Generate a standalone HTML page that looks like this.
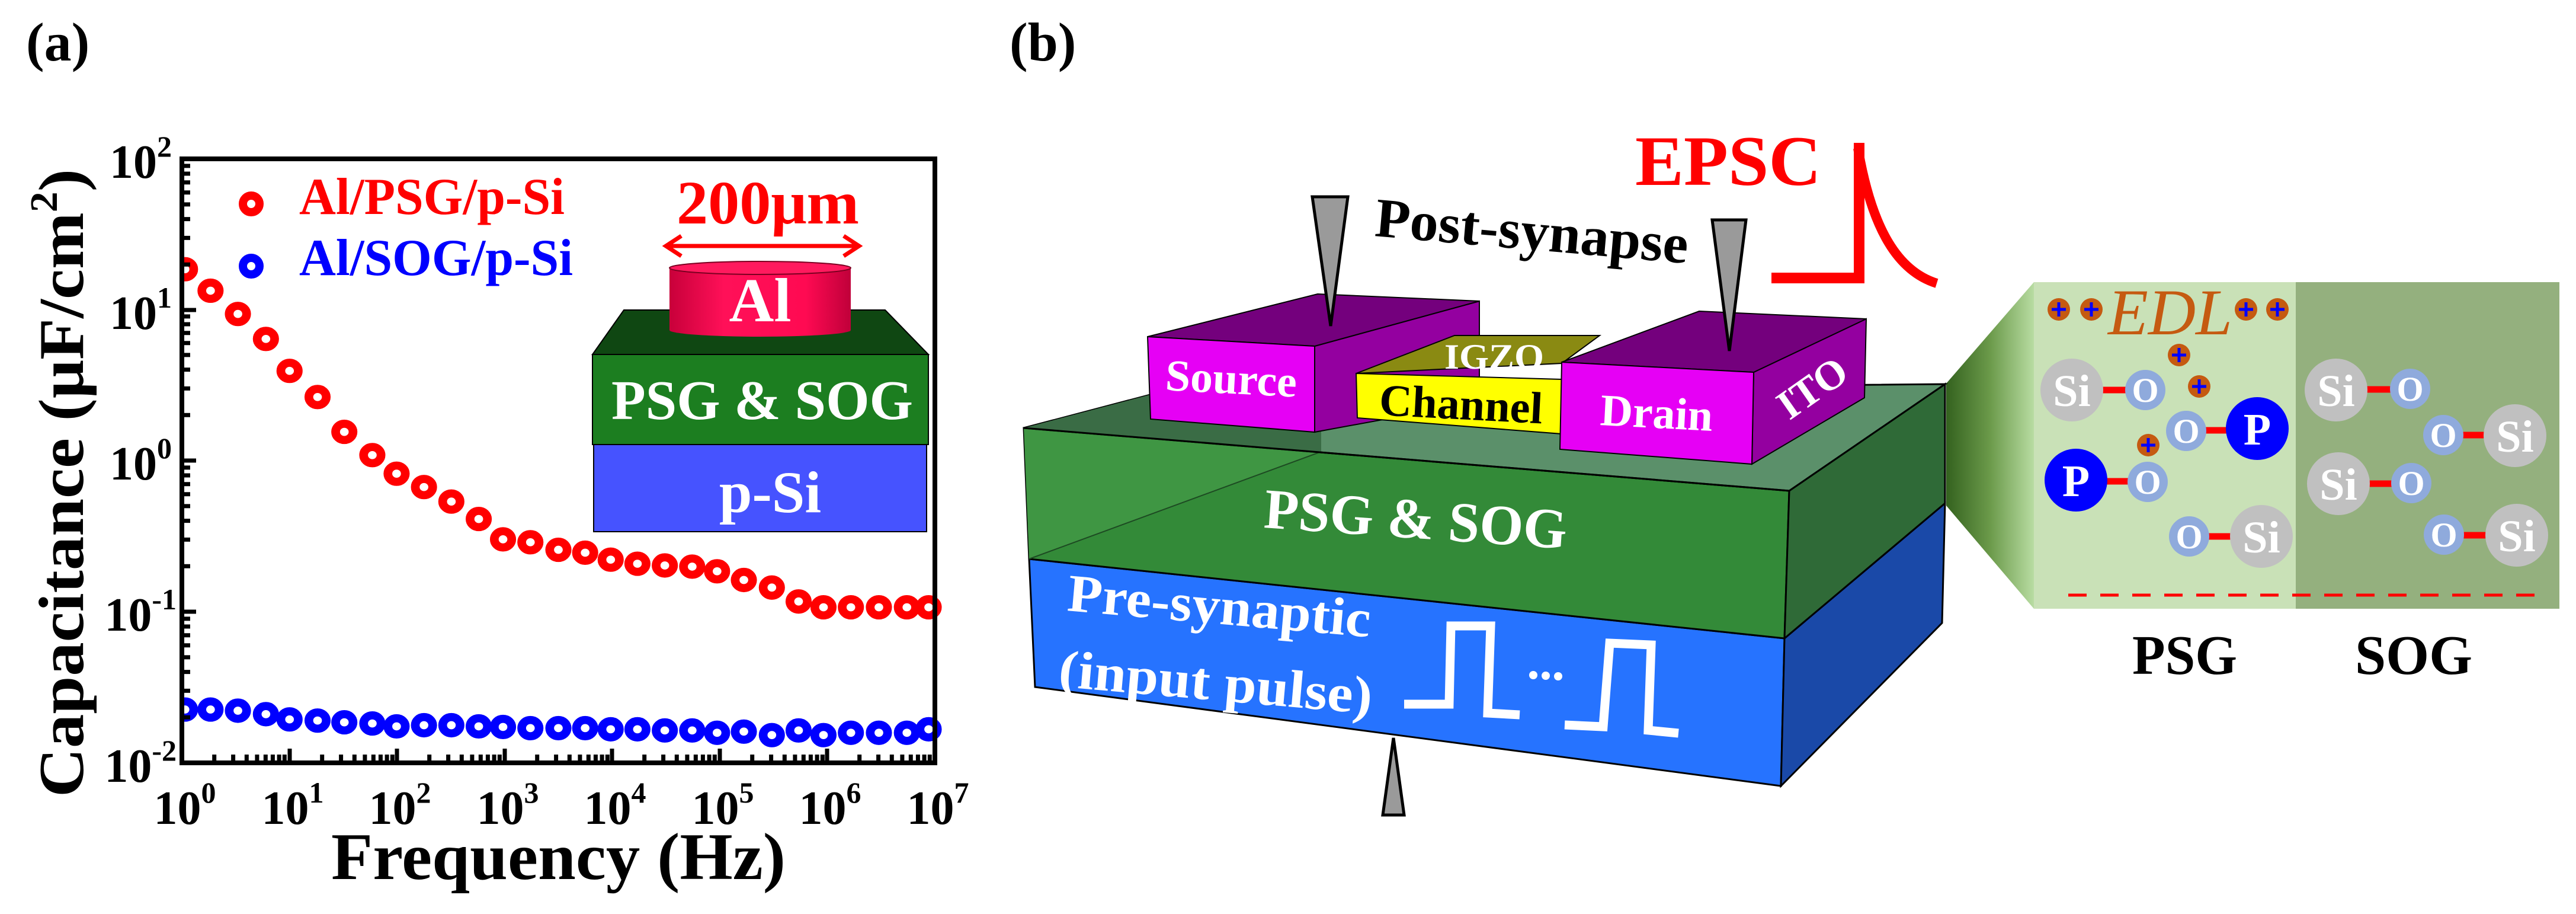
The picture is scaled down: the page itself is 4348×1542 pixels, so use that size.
<!DOCTYPE html>
<html><head><meta charset="utf-8"><style>
html,body{margin:0;padding:0;background:#fff;}
svg{display:block;}
svg text, svg tspan{font-family:"Liberation Serif","DejaVu Serif",serif !important;}
</style></head><body>
<svg width="4348" height="1542" viewBox="0 0 4348 1542" xmlns="http://www.w3.org/2000/svg" font-family="Liberation Serif, DejaVu Serif, serif">
<defs>
<path id="ly" d="M0,-76.7h14M0,-121.6h14M0,-153.4h14M0,-178.1h14M0,-198.2h14M0,-215.3h14M0,-230h14M0,-243.1h14" stroke="#000" stroke-width="7"/>
<path id="bx" d="M54.7,0v-14M86.6,0v-14M109.3,0v-14M126.9,0v-14M141.3,0v-14M153.4,0v-14M164.1,0v-14M173.3,0v-14" stroke="#000" stroke-width="7"/>
<linearGradient id="alg" x1="0" x2="1" y1="0" y2="0">
<stop offset="0" stop-color="#c8003a"/><stop offset="0.3" stop-color="#ff1058"/><stop offset="0.75" stop-color="#ff0a52"/><stop offset="1" stop-color="#c0003a"/></linearGradient>
<linearGradient id="zg" x1="0" x2="1" y1="0" y2="0">
<stop offset="0" stop-color="#34621f"/><stop offset="0.5" stop-color="#6b9a4a"/><stop offset="1" stop-color="#b8dca2"/></linearGradient>
</defs>

<text x="44" y="102" font-family="Liberation Serif, serif" font-size="92" font-weight="bold">(a)</text>

<g transform="translate(2.4,3.4) scale(1.0504,0.98)" fill="none" stroke-width="14">
<g stroke="#ff0000">
<circle cx="295" cy="460" r="14"/><circle cx="336" cy="497" r="14"/><circle cx="380" cy="537" r="14"/><circle cx="425" cy="580" r="14"/><circle cx="463" cy="635" r="14"/><circle cx="508" cy="680" r="14"/><circle cx="551" cy="740" r="14"/><circle cx="596" cy="780" r="14"/><circle cx="635" cy="812" r="14"/><circle cx="679" cy="835" r="14"/><circle cx="723" cy="860" r="14"/><circle cx="767" cy="890" r="14"/><circle cx="806" cy="925" r="14"/><circle cx="850" cy="930" r="14"/><circle cx="895" cy="943" r="14"/><circle cx="938" cy="948" r="14"/><circle cx="979" cy="960" r="14"/><circle cx="1022" cy="967" r="14"/><circle cx="1066" cy="970" r="14"/><circle cx="1110" cy="972" r="14"/><circle cx="1150" cy="980" r="14"/><circle cx="1193" cy="995" r="14"/><circle cx="1238" cy="1008" r="14"/><circle cx="1281" cy="1032" r="14"/><circle cx="1321" cy="1042" r="14"/><circle cx="1365" cy="1042" r="14"/><circle cx="1410" cy="1042" r="14"/><circle cx="1455" cy="1042" r="14"/><circle cx="1490" cy="1042" r="14"/>
</g>
<g stroke="#0000ff">
<circle cx="295" cy="1218" r="14"/><circle cx="336" cy="1218" r="14"/><circle cx="380" cy="1220" r="14"/><circle cx="425" cy="1226" r="14"/><circle cx="463" cy="1235" r="14"/><circle cx="508" cy="1237" r="14"/><circle cx="551" cy="1240" r="14"/><circle cx="596" cy="1242" r="14"/><circle cx="635" cy="1247" r="14"/><circle cx="679" cy="1245" r="14"/><circle cx="723" cy="1245" r="14"/><circle cx="767" cy="1247" r="14"/><circle cx="806" cy="1248" r="14"/><circle cx="850" cy="1250" r="14"/><circle cx="895" cy="1250" r="14"/><circle cx="938" cy="1250" r="14"/><circle cx="979" cy="1252" r="14"/><circle cx="1022" cy="1252" r="14"/><circle cx="1066" cy="1254" r="14"/><circle cx="1110" cy="1254" r="14"/><circle cx="1150" cy="1258" r="14"/><circle cx="1193" cy="1256" r="14"/><circle cx="1238" cy="1262" r="14"/><circle cx="1281" cy="1254" r="14"/><circle cx="1321" cy="1262" r="14"/><circle cx="1365" cy="1258" r="14"/><circle cx="1410" cy="1258" r="14"/><circle cx="1455" cy="1258" r="14"/><circle cx="1490" cy="1252" r="14"/>
</g>
</g>
<rect x="250" y="240" width="54" height="1080" fill="#fff"/>

<rect x="307" y="268" width="1271" height="1019" fill="none" stroke="#000" stroke-width="8"/>
<g stroke="#000" stroke-width="7">
<path d="M307,268h24M307,523h24M307,777h24M307,1032h24M307,1287h24"/>
<path d="M489,1287v-24M670,1287v-24M852,1287v-24M1033,1287v-24M1215,1287v-24M1396,1287v-24"/>
</g>
<use href="#ly" x="307" y="523"/><use href="#ly" x="307" y="777"/><use href="#ly" x="307" y="1032"/><use href="#ly" x="307" y="1287"/>
<use href="#bx" x="307" y="1287"/><use href="#bx" x="489" y="1287"/><use href="#bx" x="670" y="1287"/><use href="#bx" x="852" y="1287"/><use href="#bx" x="1033" y="1287"/><use href="#bx" x="1215" y="1287"/><use href="#bx" x="1396" y="1287"/>

<g font-size="80" font-weight="bold" text-anchor="end" font-family="Liberation Serif, serif">
<text x="290" y="300">10<tspan font-size="50" dy="-36">2</tspan></text>
<text x="290" y="555">10<tspan font-size="50" dy="-36">1</tspan></text>
<text x="290" y="809">10<tspan font-size="50" dy="-36">0</tspan></text>
<text x="298" y="1064">10<tspan font-size="50" dy="-36">-1</tspan></text>
<text x="298" y="1319">10<tspan font-size="50" dy="-36">-2</tspan></text>
</g>
<g font-size="80" font-weight="bold" text-anchor="middle" font-family="Liberation Serif, serif">
<text x="312" y="1390">10<tspan font-size="50" dy="-36">0</tspan></text>
<text x="494" y="1390">10<tspan font-size="50" dy="-36">1</tspan></text>
<text x="675" y="1390">10<tspan font-size="50" dy="-36">2</tspan></text>
<text x="857" y="1390">10<tspan font-size="50" dy="-36">3</tspan></text>
<text x="1038" y="1390">10<tspan font-size="50" dy="-36">4</tspan></text>
<text x="1220" y="1390">10<tspan font-size="50" dy="-36">5</tspan></text>
<text x="1401" y="1390">10<tspan font-size="50" dy="-36">6</tspan></text>
<text x="1583" y="1390">10<tspan font-size="50" dy="-36">7</tspan></text>
</g>
<text x="559" y="1483" font-family="Liberation Serif, serif" font-size="112" font-weight="bold" textLength="767" lengthAdjust="spacingAndGlyphs">Frequency (Hz)</text>
<text transform="translate(140,1345) rotate(-90)" font-family="Liberation Serif, serif" font-size="108" font-weight="bold" textLength="1060" lengthAdjust="spacingAndGlyphs">Capacitance (μF/cm<tspan font-size="66" dy="-44">2</tspan><tspan dy="44">)</tspan></text>

<circle cx="424" cy="344" r="14" fill="none" stroke="#ff0000" stroke-width="14"/>
<circle cx="424" cy="449" r="14" fill="none" stroke="#0000ff" stroke-width="14"/>
<g font-family="Liberation Serif, serif" font-weight="bold">
<text x="505" y="361" font-family="Liberation Serif, serif" font-size="88" style="fill:#ff0000" textLength="448" lengthAdjust="spacingAndGlyphs">Al/PSG/p-Si</text>
<text x="505" y="464" font-family="Liberation Serif, serif" font-size="88" style="fill:#0000ff" textLength="462" lengthAdjust="spacingAndGlyphs">Al/SOG/p-Si</text>
<text x="1142" y="377" font-family="Liberation Serif, serif" font-size="104" style="fill:#ff0000" textLength="308" lengthAdjust="spacingAndGlyphs">200μm</text>
</g>
<g stroke="#ff0000" stroke-width="7" fill="none">
<path d="M1124,415H1450"/><path d="M1150,398L1124,415L1150,432"/><path d="M1424,398L1450,415L1424,432"/>
</g>
<polygon points="1053,523 1494,523 1567,598 1000,598" fill="#0f4712" stroke="#000" stroke-width="2"/>
<rect x="1000" y="598" width="567" height="152" fill="#1c7e20" stroke="#000" stroke-width="2"/>
<rect x="1002" y="750" width="562" height="147" fill="#4653ff" stroke="#000" stroke-width="2"/>
<path d="M1130,452 V557 A153,11 0 0 0 1436,557 V452 Z" fill="url(#alg)"/>
<ellipse cx="1283" cy="452" rx="153" ry="11" fill="#ff1a5e" stroke="#7a0020" stroke-width="2"/>
<g font-family="Liberation Serif, serif" font-weight="bold" style="fill:#fff">
<text x="1283" y="542" font-family="Liberation Serif, serif" font-size="105" text-anchor="middle">Al</text>
<text x="1032" y="707" font-family="Liberation Serif, serif" font-size="94" textLength="509" lengthAdjust="spacingAndGlyphs">PSG &amp; SOG</text>
<text x="1300" y="864" font-family="Liberation Serif, serif" font-size="100" text-anchor="middle">p-Si</text>
</g>

<text x="1704" y="102" font-family="Liberation Serif, serif" font-size="92" font-weight="bold">(b)</text>

<polygon points="3285,647 3433,476 3433,1027 3285,853" fill="url(#zg)"/>
<rect x="3433" y="476" width="442" height="551" fill="#c9e1b7"/>
<rect x="3875" y="476" width="445" height="551" fill="#94b07e"/>
<line x1="3491" y1="1004" x2="4290" y2="1004" stroke="#ff0000" stroke-width="5" stroke-dasharray="31 23"/>

<polygon points="1737,943 3012,1077 3006,1326 1747,1159" fill="#2673ff" stroke="#000" stroke-width="3"/>
<polygon points="3012,1077 3283,849 3278,1051 3006,1326" fill="#1a49a8" stroke="#000" stroke-width="3"/>
<polygon points="1728,722 3020,828 3012,1077 1737,943" fill="#338a38" stroke="#000" stroke-width="3"/>
<polygon points="1728,722 2230,762 1737,943" fill="#3f9643"/>
<polygon points="3020,828 3283,648 3283,849 3012,1077" fill="#2f6a37" stroke="#000" stroke-width="3"/>
<polygon points="1728,722 1964,660 3283,648 3020,828" fill="#5b906a" stroke="#000" stroke-width="3"/>
<polygon points="1728,722 1964,660 2230,720 2230,762" fill="#3a6c45"/>
<line x1="1737" y1="943" x2="2230" y2="762" stroke="#1d4a22" stroke-width="2"/>
<line x1="1728" y1="722" x2="3020" y2="828" stroke="#000" stroke-width="3"/>

<polygon points="2219,584 2497,508 2497,678 2219,729" fill="#9400a0" stroke="#000" stroke-width="2"/>
<polygon points="1937,568 2224,496 2497,508 2219,584" fill="#74007d" stroke="#000" stroke-width="2"/>
<polygon points="1937,568 2219,584 2219,729 1942,707" fill="#e600f5" stroke="#000" stroke-width="2"/>

<polygon points="2289,630 2455,566 2700,566 2636,613" fill="#8a8a12" stroke="#000" stroke-width="2"/>
<polygon points="2289,630 2636,640 2636,732 2291,705" fill="#ffff00" stroke="#000" stroke-width="2"/>

<polygon points="2960,628 3150,538 3147,671 2957,783" fill="#9400a0" stroke="#000" stroke-width="2"/>
<polygon points="2636,611 2868,525 3150,538 2960,628" fill="#74007d" stroke="#000" stroke-width="2"/>
<polygon points="2636,611 2960,628 2957,783 2633,758" fill="#e600f5" stroke="#000" stroke-width="2"/>

<g font-family="Liberation Serif, serif" font-weight="bold" style="fill:#fff">
<text x="1966" y="658" font-family="Liberation Serif, serif" font-size="75" textLength="222" lengthAdjust="spacingAndGlyphs" transform="rotate(3 1966 658)">Source</text>
<text x="2438" y="622" font-family="Liberation Serif, serif" font-size="60" textLength="168" lengthAdjust="spacingAndGlyphs">IGZO</text>
<text x="2700" y="717" font-family="Liberation Serif, serif" font-size="76" textLength="190" lengthAdjust="spacingAndGlyphs" transform="rotate(3 2700 717)">Drain</text>
<text x="3058" y="678" font-family="Liberation Serif, serif" font-size="70" text-anchor="middle" transform="rotate(-35 3058 653)">ITO</text>
<text x="2132" y="890" font-family="Liberation Serif, serif" font-size="96" textLength="512" lengthAdjust="spacingAndGlyphs" transform="rotate(4 2132 890)">PSG &amp; SOG</text>
<text x="1800" y="1030" font-family="Liberation Serif, serif" font-size="90" textLength="513" lengthAdjust="spacingAndGlyphs" transform="rotate(5 1800 1030)">Pre-synaptic</text>
<text x="1785" y="1158" font-family="Liberation Serif, serif" font-size="90" textLength="531" lengthAdjust="spacingAndGlyphs" transform="rotate(5 1785 1158)">(input pulse)</text>
</g>
<g font-family="Liberation Serif, serif" font-weight="bold">
<text x="2327" y="700" font-family="Liberation Serif, serif" font-size="76" textLength="276" lengthAdjust="spacingAndGlyphs" transform="rotate(3 2327 700)">Channel</text>
<text x="2319" y="398" font-family="Liberation Serif, serif" font-size="94" textLength="530" lengthAdjust="spacingAndGlyphs" transform="rotate(5 2319 398)">Post-synapse</text>
<text x="2760" y="312" font-family="Liberation Serif, serif" font-size="120" style="fill:#ff0000" textLength="314" lengthAdjust="spacingAndGlyphs">EPSC</text>
</g>

<polygon points="2215,332 2275,332 2246,550" fill="#9a9a9a" stroke="#000" stroke-width="5"/>
<polygon points="2890,371 2947,371 2919,592" fill="#9a9a9a" stroke="#000" stroke-width="5"/>
<polygon points="2334,1375 2370,1375 2352,1245" fill="#9a9a9a" stroke="#000" stroke-width="5"/>

<path d="M2990,469 H3138 V241" fill="none" stroke="#ff0000" stroke-width="18"/>
<path d="M3136,250 C3160,390 3205,458 3269,478" fill="none" stroke="#ff0000" stroke-width="16"/>

<g fill="none" stroke="#fff" stroke-width="15">
<path d="M2370,1188 L2446,1188 L2449,1056 L2516,1056 L2511,1203 L2565,1206"/>
<path d="M2641,1223 L2706,1226 L2717,1085 L2787,1088 L2782,1232 L2833,1237"/>
</g>
<g fill="#fff"><circle cx="2588" cy="1139" r="7"/><circle cx="2609" cy="1140" r="7"/><circle cx="2630" cy="1141" r="7"/></g>

<text x="3558" y="564" font-family="Liberation Serif, serif" font-size="110" font-style="italic" style="fill:#c55a11" textLength="210" lengthAdjust="spacingAndGlyphs">EDL</text>
<g fill="#c55a11"><circle cx="3475" cy="522" r="19"/><circle cx="3530" cy="522" r="19"/><circle cx="3791" cy="522" r="19"/><circle cx="3844" cy="522" r="19"/><circle cx="3678" cy="599" r="19"/><circle cx="3712" cy="652" r="19"/><circle cx="3626" cy="751" r="19"/></g>
<g stroke="#0000ff" stroke-width="5">
<path d="M3463,522h24M3475,510v24M3518,522h24M3530,510v24M3779,522h24M3791,510v24M3832,522h24M3844,510v24M3666,599h24M3678,587v24M3700,652h24M3712,640v24M3614,751h24M3626,739v24"/>
</g>

<g stroke="#ff0000" stroke-width="11">
<path d="M3497,658H3621M3690,726H3810M3504,812H3625M3695,905H3817M3943,657H4068M4124,734H4245M3947,816H4070M4125,903H4248"/>
</g>
<g fill="#c0c0c0"><circle cx="3497" cy="658" r="53"/><circle cx="3817" cy="905" r="53"/><circle cx="3943" cy="658" r="53"/><circle cx="4245" cy="735" r="53"/><circle cx="3947" cy="816" r="53"/><circle cx="4248" cy="903" r="53"/></g>
<g fill="#0000ff"><circle cx="3810" cy="723" r="53"/><circle cx="3504" cy="810" r="53"/></g>
<g fill="#8faadc"><circle cx="3621" cy="658" r="34"/><circle cx="3690" cy="727" r="34"/><circle cx="3625" cy="813" r="34"/><circle cx="3695" cy="905" r="34"/><circle cx="4068" cy="656" r="34"/><circle cx="4124" cy="734" r="34"/><circle cx="4070" cy="815" r="34"/><circle cx="4125" cy="902" r="34"/></g>
<g style="fill:#fff" font-weight="bold" text-anchor="middle" font-family="Liberation Serif, serif">
<g font-size="76"><text x="3497" y="685">Si</text><text x="3817" y="932">Si</text><text x="3943" y="685">Si</text><text x="4245" y="762">Si</text><text x="3947" y="843">Si</text><text x="4248" y="930">Si</text>
<text x="3810" y="750">P</text><text x="3504" y="837">P</text></g>
<g font-size="58"><text x="3621" y="678">O</text><text x="3690" y="747">O</text><text x="3625" y="833">O</text><text x="3695" y="925">O</text><text x="4068" y="676">O</text><text x="4124" y="754">O</text><text x="4070" y="835">O</text><text x="4125" y="922">O</text></g>
</g>

<text x="3599" y="1137" font-family="Liberation Serif, serif" font-size="94" font-weight="bold" textLength="177" lengthAdjust="spacingAndGlyphs">PSG</text>
<text x="3975" y="1137" font-family="Liberation Serif, serif" font-size="94" font-weight="bold" textLength="198" lengthAdjust="spacingAndGlyphs">SOG</text>
</svg>
</body></html>
